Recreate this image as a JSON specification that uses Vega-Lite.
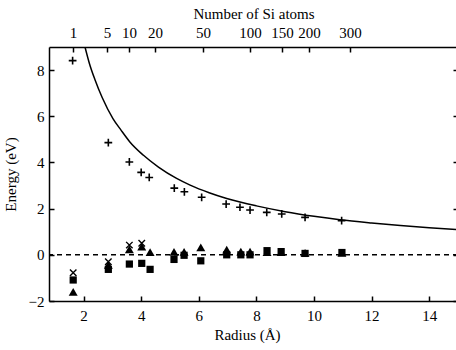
{
  "$schema": "https://vega.github.io/schema/vega-lite/v6.json",
  "width": 409,
  "height": 254,
  "autosize": "none",
  "padding": {"left": 49, "top": 47, "right": 0, "bottom": 49},
  "background": "white",
  "config": {
    "view": {"stroke": null},
    "axis": {
      "labelFont": "Liberation Serif",
      "titleFont": "Liberation Serif",
      "labelFontSize": 15,
      "titleFontSize": 15,
      "titleFontWeight": "normal",
      "labelColor": "black",
      "titleColor": "black",
      "domainColor": "black",
      "tickColor": "black",
      "domainWidth": 1.5,
      "tickWidth": 1.5,
      "tickSize": -5,
      "grid": false
    }
  },
  "datasets": {
    "curve": [
      {"r": 2.05, "e": 9.0},
      {"r": 2.2, "e": 8.3},
      {"r": 2.4, "e": 7.57},
      {"r": 2.65, "e": 6.8},
      {"r": 3.02, "e": 5.9},
      {"r": 3.3, "e": 5.4},
      {"r": 3.6, "e": 4.9},
      {"r": 4.07, "e": 4.32},
      {"r": 4.6, "e": 3.8},
      {"r": 5.23, "e": 3.31},
      {"r": 5.7, "e": 3.02},
      {"r": 6.36, "e": 2.69},
      {"r": 6.97, "e": 2.44},
      {"r": 8.0, "e": 2.12},
      {"r": 9.0, "e": 1.87},
      {"r": 10.0, "e": 1.67},
      {"r": 10.9, "e": 1.52},
      {"r": 12.0, "e": 1.38},
      {"r": 13.0, "e": 1.27},
      {"r": 14.0, "e": 1.17},
      {"r": 15.0, "e": 1.09}
    ],
    "plus": [
      {"r": 1.62, "e": 8.41},
      {"r": 2.86, "e": 4.86},
      {"r": 3.59, "e": 4.02},
      {"r": 4.0, "e": 3.57},
      {"r": 4.28, "e": 3.35},
      {"r": 5.15, "e": 2.89},
      {"r": 5.5, "e": 2.73},
      {"r": 6.1, "e": 2.49},
      {"r": 6.95, "e": 2.2},
      {"r": 7.43, "e": 2.06},
      {"r": 7.78, "e": 1.94},
      {"r": 8.36, "e": 1.84},
      {"r": 8.88, "e": 1.77},
      {"r": 9.69, "e": 1.62},
      {"r": 10.96, "e": 1.48}
    ],
    "cross": [
      {"r": 1.64, "e": -0.78},
      {"r": 2.86, "e": -0.3},
      {"r": 3.59, "e": 0.42},
      {"r": 4.02, "e": 0.5}
    ],
    "tri": [
      {"r": 1.64, "e": -1.6},
      {"r": 2.86, "e": -0.44},
      {"r": 3.59, "e": 0.24},
      {"r": 4.02, "e": 0.35},
      {"r": 4.31, "e": 0.12},
      {"r": 5.14, "e": 0.13},
      {"r": 5.49, "e": 0.13},
      {"r": 6.07, "e": 0.32},
      {"r": 6.97, "e": 0.22},
      {"r": 7.46, "e": 0.14},
      {"r": 7.78, "e": 0.14},
      {"r": 8.37, "e": 0.12},
      {"r": 8.86, "e": 0.12},
      {"r": 9.69, "e": 0.08},
      {"r": 10.97, "e": 0.08}
    ],
    "sq": [
      {"r": 1.64, "e": -1.09},
      {"r": 2.86, "e": -0.63},
      {"r": 3.59, "e": -0.4},
      {"r": 4.02, "e": -0.37},
      {"r": 4.31, "e": -0.63},
      {"r": 5.14, "e": -0.2},
      {"r": 5.49, "e": -0.02},
      {"r": 6.07, "e": -0.26},
      {"r": 6.97, "e": 0.0},
      {"r": 7.46, "e": 0.0},
      {"r": 7.78, "e": 0.0},
      {"r": 8.37, "e": 0.18},
      {"r": 8.86, "e": 0.14},
      {"r": 9.69, "e": 0.06},
      {"r": 10.97, "e": 0.1}
    ],
    "zero": [{"e": 0}],
    "atoms": [
      {"n": 1, "r": 1.63},
      {"n": 5, "r": 2.81},
      {"n": 10, "r": 3.58},
      {"n": 20, "r": 4.48},
      {"n": 50, "r": 6.15},
      {"n": 100, "r": 7.78},
      {"n": 150, "r": 8.89},
      {"n": 200, "r": 9.83},
      {"n": 300, "r": 11.25}
    ]
  },
  "resolve": {"axis": {"x": "independent", "y": "independent"}},
  "layer": [
    {
      "data": {"name": "curve"},
      "mark": {"type": "line", "color": "black", "strokeWidth": 1.5, "interpolate": "monotone", "clip": true},
      "encoding": {
        "x": {"field": "r", "type": "quantitative", "scale": {"domain": [0.8, 15], "nice": false, "zero": false},
          "axis": {"orient": "bottom", "values": [2, 4, 6, 8, 10, 12, 14], "title": "Radius (Å)", "labelPadding": 12, "titlePadding": 4, "titleX": 198}},
        "y": {"field": "e", "type": "quantitative", "scale": {"domain": [-2, 9], "nice": false, "zero": false},
          "axis": {"orient": "left", "values": [-2, 0, 2, 4, 6, 8], "title": "Energy (eV)", "labelPadding": 10, "titlePadding": 10}}
      }
    },
    {
      "data": {"name": "zero"},
      "mark": {"type": "rule", "color": "black", "strokeWidth": 1.5, "strokeDash": [5, 4]},
      "encoding": {
        "y": {"field": "e", "type": "quantitative", "scale": {"domain": [-2, 9], "nice": false, "zero": false},
          "axis": {"orient": "right", "values": [-2, 0, 2, 4, 6, 8], "labels": false, "title": null}}
      }
    },
    {
      "data": {"name": "plus"},
      "mark": {"type": "point", "shape": "M-1,0L1,0M0,-1L0,1", "filled": false, "color": "black", "strokeWidth": 1.6, "size": 60, "opacity": 1},
      "encoding": {
        "x": {"field": "r", "type": "quantitative", "axis": null},
        "y": {"field": "e", "type": "quantitative", "axis": null}
      }
    },
    {
      "data": {"name": "sq"},
      "mark": {"type": "point", "shape": "square", "filled": true, "color": "black", "size": 52, "opacity": 1},
      "encoding": {
        "x": {"field": "r", "type": "quantitative", "axis": null},
        "y": {"field": "e", "type": "quantitative", "axis": null}
      }
    },
    {
      "data": {"name": "tri"},
      "mark": {"type": "point", "shape": "triangle-up", "filled": true, "color": "black", "size": 80, "opacity": 1},
      "encoding": {
        "x": {"field": "r", "type": "quantitative", "axis": null},
        "y": {"field": "e", "type": "quantitative", "axis": null}
      }
    },
    {
      "data": {"name": "cross"},
      "mark": {"type": "point", "shape": "M-1,-1L1,1M-1,1L1,-1", "filled": false, "color": "black", "strokeWidth": 1.4, "size": 42, "opacity": 1},
      "encoding": {
        "x": {"field": "r", "type": "quantitative", "axis": null},
        "y": {"field": "e", "type": "quantitative", "axis": null}
      }
    },
    {
      "data": {"name": "atoms"},
      "mark": {"type": "point", "opacity": 0},
      "encoding": {
        "x": {"field": "r", "type": "quantitative",
          "axis": {"orient": "top", "values": [1.63, 2.81, 3.58, 4.48, 6.15, 7.78, 8.89, 9.83, 11.25],
            "labelExpr": "['1','5','10','20','50','100','150','200','300'][indexof([1.63, 2.81, 3.58, 4.48, 6.15, 7.78, 8.89, 9.83, 11.25], datum.value)]",
            "title": "Number of Si atoms", "labelPadding": 12, "titlePadding": 4}}
      }
    }
  ]
}
